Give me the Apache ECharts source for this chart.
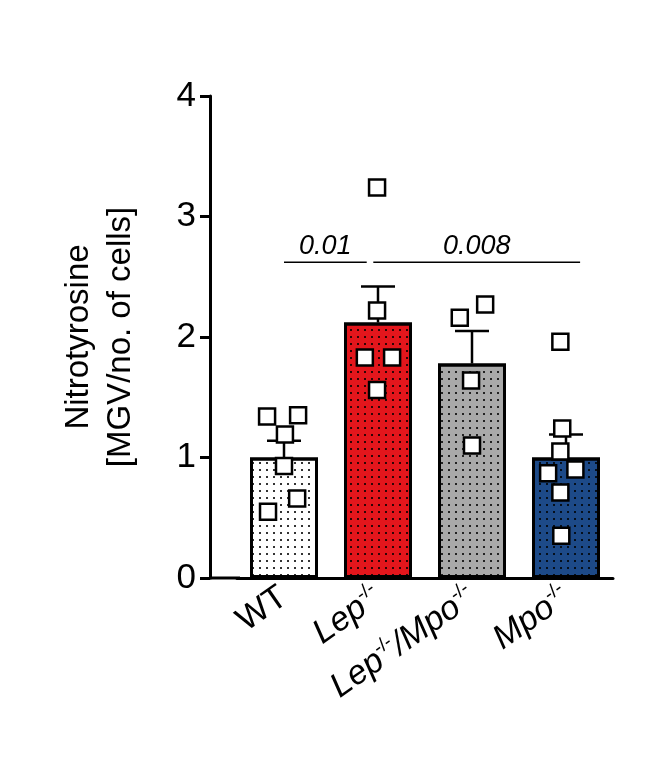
<!DOCTYPE html><html><head><meta charset="utf-8">
<script src="https://cdn.jsdelivr.net/npm/echarts@6/dist/echarts.min.js"></script>
<style>body{margin:0}#c{width:651px;height:762px}</style></head><body><div id="c"></div><script>
const categories=['WT','Lep','LepMpo','Mpo'];
const means=[1.0,2.12,1.78,1.0];
const sem=[0.14,0.30,0.27,0.19];
const colors=['#ffffff','#e3161c','#a9a9a9','#1d4a88'];
const pointsX=[-0.18,0.15,0.01,0.0,0.14,-0.17, 0.99,0.99,0.86,1.15,0.99, 1.87,2.14,1.99,2.0, 2.94,2.96,2.94,2.81,3.1,2.94,2.95];
const pointsY=[1.34,1.35,1.19,0.93,0.66,0.55, 3.24,2.22,1.83,1.83,1.56, 2.16,2.27,1.64,1.10, 1.96,1.24,1.05,0.87,0.90,0.71,0.35];
const sig=[{x1:0,x2:0.88,y:2.62,t:'0.01'},{x1:0.95,x2:3.15,y:2.62,t:'0.008'}];
const F='Liberation Sans';
const ch=echarts.init(document.getElementById('c'));
const dec={symbol:'rect',symbolSize:1,dashArrayX:[[2,5]],dashArrayY:[2,5],color:'rgba(0,0,0,0.8)',rotation:0};
ch.setOption({
 animation:false,
 grid:{left:237,right:38,top:96,bottom:184},
 xAxis:[{type:'category',data:categories,axisTick:{show:false},axisLine:{lineStyle:{color:'#000',width:3}},
  axisLabel:{rotate:35,interval:0,margin:16,fontFamily:F,fontSize:34,color:'#000',
   formatter:v=>({WT:'WT',Lep:'{i|Lep}{s|-/-}',LepMpo:'{i|Lep}{s|-/-}{i|/Mpo}{s|-/-}',Mpo:'{i|Mpo}{s|-/-}'}[v]),
   rich:{i:{fontStyle:'italic',fontFamily:F,fontSize:34,color:'#000'},s:{fontFamily:F,fontSize:19,color:'#000',verticalAlign:'top',padding:[0,0,18,0]}}}},
  {type:'value',min:-0.5,max:3.5,show:false}],
 yAxis:{type:'value',min:0,max:4,interval:1,offset:27,
  name:'Nitrotyrosine\n[MGV/no. of cells]',nameLocation:'middle',nameGap:68,nameRotate:90,
  nameTextStyle:{fontFamily:F,fontSize:33,color:'#000',lineHeight:42},
  axisLine:{show:true,onZero:false,lineStyle:{color:'#000',width:3}},axisTick:{show:true,length:10,lineStyle:{width:3,color:'#000'}},
  splitLine:{show:false},axisLabel:{fontFamily:F,fontSize:35,color:'#000',margin:14}},
 graphic:[{type:'line',shape:{x1:210,y1:578,x2:240,y2:578},style:{stroke:'#000',lineWidth:3}}],
 series:[
  {type:'bar',barWidth:68,data:means.map((v,i)=>({value:v,itemStyle:{color:colors[i],borderColor:'#000',borderWidth:3,decal:dec}}))},
  {type:'custom',xAxisIndex:1,renderItem:(p,api)=>{const i=p.dataIndex;const a=api.coord([i,means[i]]),b=api.coord([i,means[i]+sem[i]]);
    return {type:'group',children:[{type:'line',shape:{x1:a[0],y1:a[1],x2:b[0],y2:b[1]},style:{stroke:'#000',lineWidth:2.5}},
     {type:'line',shape:{x1:b[0]-17,y1:b[1],x2:b[0]+17,y2:b[1]},style:{stroke:'#000',lineWidth:2.5}}]};},
   data:means.map((v,i)=>[i,v]),z:3},
  {type:'scatter',xAxisIndex:1,symbol:'rect',symbolSize:16,itemStyle:{color:'#fff',opacity:1,borderColor:'#000',borderWidth:2.5},
   data:pointsX.map((x,i)=>[x,pointsY[i]]),z:5},
  ...sig.map(s=>({type:'line',xAxisIndex:1,symbol:'none',lineStyle:{color:'#000',width:1.5},
   data:[[s.x1,s.y],[s.x2,s.y]],
   markPoint:{symbol:'rect',symbolSize:1,itemStyle:{color:'transparent'},data:[{coord:[(s.x1+s.x2)/2,s.y]}],
    label:{show:true,formatter:s.t,position:'top',distance:2,fontFamily:F,fontStyle:'italic',fontSize:27,color:'#000'}}}))
 ]});
</script></body></html>
